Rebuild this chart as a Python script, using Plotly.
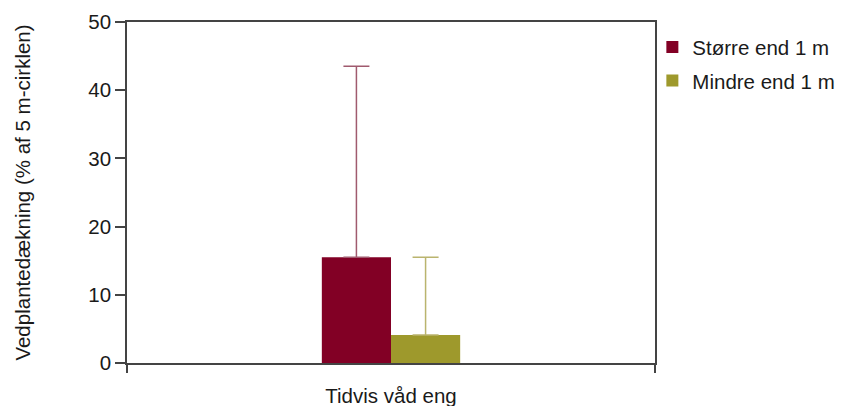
import plotly.graph_objects as go

categories = ["Tidvis våd eng"]
series_names = ["Større end 1 m", "Mindre end 1 m"]
means = [[15.5], [4.1]]
errors_up = [[28.0], [11.4]]
bar_colors = ["#820025", "#9e992c"]
err_colors = ["#a05a6e", "#bab46e"]
y_ticks = [0, 10, 20, 30, 40, 50]

fig = go.Figure()
for i, (name, vals, errs, col, ecol) in enumerate(zip(series_names, means, errors_up, bar_colors, err_colors)):
    fig.add_trace(go.Bar(
        x=categories, y=vals, name=name, legendgroup=f"g{i}",
        marker=dict(color=col, line=dict(width=0)),
        error_y=dict(type="data", array=errs, symmetric=False, arrayminus=[0] * len(errs),
                     color=ecol, thickness=1.5, width=13),
    ))

base_font = dict(family="Liberation Sans, Arial, sans-serif", size=20.5, color="#1a1a1a")
fig.update_layout(
    width=843, height=406,
    margin=dict(l=127, r=188, t=22, b=43, autoexpand=False),
    plot_bgcolor="white", paper_bgcolor="white",
    barmode="group", bargap=0.738, bargroupgap=0,
    font=base_font,
    showlegend=True,
    legend=dict(x=0.995, y=0.985, xanchor="left", yanchor="top",
                bgcolor="rgba(0,0,0,0)", borderwidth=0,
                font=base_font, tracegroupgap=4, itemsizing="constant"),
    yaxis=dict(range=[0, 50], tickvals=y_ticks, ticks="outside", ticklen=10, tickwidth=1.5,
               tickcolor="#444", showline=True, linecolor="#444", linewidth=1.5, mirror=True,
               showgrid=False, zeroline=False, tickfont=base_font,
               title=dict(text="Vedplantedækning (% af 5 m-cirklen)", font=base_font, standoff=52)),
    xaxis=dict(ticks="outside", tickson="boundaries", ticklen=8, tickwidth=1.5, tickcolor="#444",
               showline=True, linecolor="#444", linewidth=1.5, mirror=True, showgrid=False,
               tickfont=base_font, ticklabelstandoff=14),
)
fig.write_html("out.html")
